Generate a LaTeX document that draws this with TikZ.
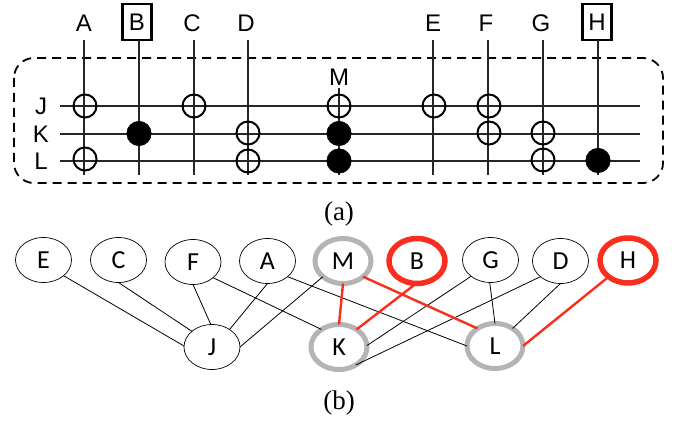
\documentclass[tikz,border=0pt]{standalone}
\usepackage{fontspec}
\setmainfont{Liberation Sans}
\newfontfamily\capfont{Liberation Serif}
\newfontfamily\graphfont{Carlito}
\usetikzlibrary{shapes.geometric}
\definecolor{hotred}{RGB}{250,45,30}
\definecolor{ringgrey}{RGB}{180,180,180}
\tikzset{
  wire/.style={line width=2pt,black!85},
  lab/.style={font=\fontsize{24}{24}\selectfont,inner sep=0pt,outer sep=0pt},
  boxlab/.style={lab,draw,line width=2.4pt,minimum width=29pt,minimum height=36pt},
  opencirc/.style={circle,draw,line width=2pt,minimum size=23pt,inner sep=0pt},
  fullcirc/.style={circle,draw,fill=black,line width=0.5pt,minimum size=24.5pt,inner sep=0pt},
  gnode/.style={ellipse,draw,font=\graphfont\fontsize{26}{26}\selectfont,minimum width=56pt,minimum height=45pt,inner sep=0pt,outer sep=0pt,line width=0.7pt},
  greynode/.style={gnode,draw=ringgrey,line width=5pt},
  rednode/.style={gnode,draw=hotred,line width=5.5pt},
  thinedge/.style={line width=0.8pt},
  rededge/.style={line width=2.4pt,draw=hotred},
  capt/.style={font=\capfont\fontsize{27}{27}\selectfont,inner sep=0pt}
}
\begin{document}
\begin{tikzpicture}[x=1pt,y=-1pt]
\useasboundingbox (0,0) rectangle (677,422);
% dashed region
\draw[line width=1.8pt,dash pattern=on 9pt off 6pt,rounded corners=20pt] (14,58) rectangle (663,183);
% row labels and wires
\foreach \n/\y in {J/106,K/134,L/161}{
  \node[lab] (r\n) at (41,\y) {\n};
  \coordinate (rs\n) at (60,\y);
  \coordinate (re\n) at (640,\y);
  \draw[wire] (rs\n) -- (re\n);
}
% column labels and wires
\foreach \n/\x in {A/84,C/192,D/246,E/433,F/486,G/541}{
  \node[lab] (c\n) at (\x,23) {\n};
}
\node[boxlab] (cB) at (137,22) {B};
\node[boxlab] (cH) at (597,22) {H};
\node[lab] (cM) at (339,77) {M};
\foreach \n/\x in {A/84,B/139,C/194,D/248,E/433,F/488,G/543,H/598}{
  \coordinate (ct\n) at (\x,40);
  \coordinate (cb\n) at (\x,175);
  \draw[wire] (ct\n) -- (cb\n);
}
\coordinate (ctM) at (339,88);
\coordinate (cbM) at (339,175);
\draw[wire] (ctM) -- (cbM);
% gates
\foreach \i/\x/\y in {a/85/106,b/194/106,c/339/106,d/434/106,e/489/106,f/248/133,g/489/133,h/543/133,i/85/159,j/248/161,k/543/160}{
  \node[opencirc] (o\i) at (\x,\y) {};
}
\foreach \i/\x/\y in {a/139/133.5,b/339/133.5,c/339/161,d/598/160.5}{
  \node[fullcirc] (s\i) at (\x,\y) {};
}
\node[capt] (capa) at (339,214) {(a)};
\node[capt] (capb) at (339,403) {(b)};
% graph nodes
\node[gnode] (E) at (43.5,260) {E};
\node[gnode] (C) at (118.5,260) {C};
\node[gnode] (F) at (193,262) {F};
\node[gnode] (A) at (267.5,261) {A};
\node[greynode] (M) at (343,261) {M};
\node[rednode] (B) at (417,261) {B};
\node[gnode] (G) at (490.5,260) {G};
\node[gnode] (D) at (560.5,261) {D};
\node[rednode] (H) at (628,260.5) {H};
\node[gnode] (J) at (212,347) {J};
\node[greynode] (K) at (339,347) {K};
\node[greynode] (L) at (495,346) {L};
% edges
\draw[thinedge] (E.-38) -- (J.178);
\draw[thinedge] (C.-90) -- (J.142);
\draw[thinedge] (F.-90) -- (J.93);
\draw[thinedge] (A.-90) -- (J.45);
\draw[thinedge] (M.-142) -- (J.0);
\draw[thinedge] (F.-38) -- (K.135);
\draw[thinedge] (A.-38) -- (L.180);
\draw[thinedge] (G.-140) -- (K.3);
\draw[thinedge] (G.-92) -- (L.90);
\draw[thinedge] (D.-142) -- (K.-47);
\draw[thinedge] (D.-90) -- (L.45);
\draw[rededge] (M.-90) -- (K.90);
\draw[rededge] (B.-92) -- (K.45);
\draw[rededge] (M.-38) -- (L.135);
\draw[rededge] (H.-140) -- (L.0);
\end{tikzpicture}
\end{document}
